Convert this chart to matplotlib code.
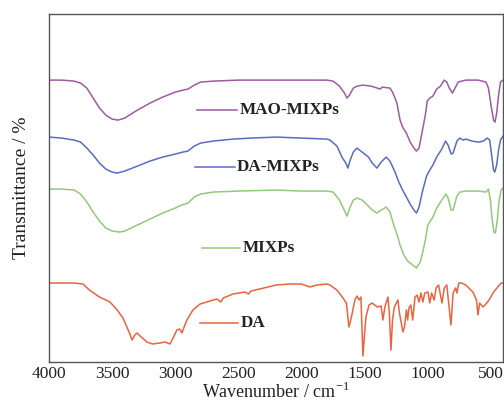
import matplotlib
matplotlib.use("Agg")
import matplotlib.pyplot as plt

plt.rcParams['font.family'] = ['Liberation Serif', 'DejaVu Serif']

# Wavenumber (cm-1) and transmittance (arbitrary offset units)
mao_wn = [4000, 3900, 3800, 3750, 3700, 3650, 3600, 3550, 3500, 3454, 3400, 3300, 3200, 3100,
          3000, 2940, 2900, 2850, 2800, 2700, 2500, 2000, 1800, 1750, 1700, 1660, 1640, 1620,
          1590, 1560, 1514, 1450, 1400, 1380, 1360, 1300, 1280, 1260, 1245, 1220, 1200, 1170,
          1140, 1110, 1090, 1070, 1047, 1020, 1005, 985, 960, 930, 900, 870, 850, 830, 805,
          785, 760, 700, 600, 540, 520, 500, 480, 468, 455, 440, 425, 405]
mao_t = [282, 282, 281, 279, 274, 264, 254, 247, 243, 242, 244, 252, 259, 265,
         270, 272, 273, 277, 280, 281, 282, 282, 282, 281, 276, 269, 264, 267,
         274, 276, 277, 276, 274, 273, 275, 274, 270, 264, 259, 242, 235, 229,
         220, 214, 211, 214, 229, 247, 261, 264, 266, 273, 276, 282, 280, 274, 269,
         274, 280, 282, 282, 280, 274, 257, 242, 240, 249, 267, 280, 282]

da_mixps_wn = [4000, 3900, 3800, 3750, 3700, 3650, 3600, 3550, 3500, 3460, 3400, 3300, 3200,
               3100, 3000, 2940, 2900, 2850, 2800, 2700, 2543, 2400, 2200, 2000, 1800, 1775,
               1720, 1680, 1650, 1633, 1615, 1590, 1562, 1530, 1500, 1470, 1440, 1403, 1370,
               1330, 1300, 1260, 1230, 1200, 1170, 1140, 1110, 1090, 1070, 1040, 1010, 985,
               960, 930, 890, 860, 840, 815, 800, 770, 746, 720, 700, 650, 600, 560, 530,
               510, 495, 480, 470, 455, 440, 425, 405]
da_mixps_t = [225, 224, 222, 220, 214, 207, 199, 193, 190, 189, 191, 196, 201,
              205, 208, 210, 211, 216, 219, 221, 223, 224, 225, 224, 223, 222,
              216, 205, 199, 194, 202, 210, 214, 211, 208, 205, 199, 194, 200,
              205, 201, 190, 180, 172, 165, 158, 152, 149, 155, 172, 186, 192,
              197, 205, 213, 221, 217, 208, 209, 221, 224, 222, 223, 221, 220, 221, 224,
              222, 207, 192, 190, 197, 212, 222, 226]

mixps_wn = [4000, 3900, 3800, 3750, 3700, 3650, 3600, 3550, 3500, 3440, 3400, 3300, 3200,
            3100, 3000, 2950, 2900, 2850, 2800, 2700, 2500, 2200, 2000, 1800, 1750, 1700,
            1670, 1640, 1615, 1590, 1560, 1520, 1480, 1440, 1403, 1370, 1330, 1300, 1270,
            1245, 1220, 1190, 1160, 1120, 1090, 1060, 1040, 1020, 1000, 985, 960, 930, 890,
            857, 840, 815, 800, 770, 746, 700, 600, 540, 520, 505, 490, 477, 465, 450, 435,
            420, 405]
mixps_t = [173, 173, 172, 168, 160, 150, 141, 134, 131, 130, 131, 137, 143,
           149, 154, 157, 159, 165, 168, 170, 171, 172, 171, 171, 170, 162,
           154, 146, 155, 162, 164, 162, 157, 152, 149, 152, 155, 150, 137,
           128, 117, 107, 101, 97, 94, 100, 110, 122, 137, 140, 145, 154, 162,
           168, 164, 152, 152, 166, 170, 171, 171, 170, 173, 162, 142, 130, 129, 142, 162,
           172, 174]

da_wn = [4000, 3900, 3800, 3730, 3680, 3600, 3517, 3460, 3414, 3380, 3359, 3343, 3320, 3303,
         3270, 3224, 3180, 3121, 3080, 3042, 3010, 2987, 2965, 2947, 2930, 2908, 2860, 2804,
         2750, 2700, 2670, 2640, 2620, 2543, 2450, 2420, 2400, 2300, 2200, 2100, 2000, 1933,
         1880, 1800, 1775, 1720, 1672, 1645, 1625, 1605, 1578, 1561, 1545, 1530, 1514, 1500,
         1490, 1466, 1443, 1420, 1400, 1370, 1356, 1340, 1316, 1305, 1292, 1280, 1265, 1237,
         1225, 1197, 1185, 1170, 1160, 1150, 1135, 1120, 1102, 1085, 1070, 1055, 1039, 1025,
         999, 985, 970, 950, 935, 915, 888, 870, 850, 817, 800, 780, 770, 755, 730, 700,
         643, 615, 603, 590, 564, 540, 510, 480, 453, 420, 405]
da_t = [79, 79, 79, 78, 72, 65, 60, 52, 44, 34, 28, 22, 27, 29,
        25, 20, 18, 19, 20, 18, 26, 32, 33, 29, 35, 42, 52, 58,
        60, 62, 63, 60, 64, 68, 70, 68, 71, 74, 77, 78, 78, 75,
        77, 78, 77, 72, 64, 59, 35, 45, 62, 66, 62, 65, 6, 30,
        45, 57, 59, 57, 55, 56, 42, 55, 65, 49, 12, 42, 55, 62,
        49, 30, 35, 52, 42, 54, 57, 42, 65, 67, 60, 69, 60, 69,
        70, 59, 69, 62, 74, 77, 59, 74, 77, 37, 69, 74, 69, 79, 79, 77,
        70, 62, 47, 59, 55, 58, 63, 70, 74, 79, 79]

names = ['MAO-MIXPs', 'DA-MIXPs', 'MIXPs', 'DA']
colors = ['#9C5C9E', '#5B6CC0', '#93C97A', '#E8653F']
# legend-like label: line start, line end, text start (wavenumber), height
label_line_start = [2830, 2845, 2790, 2805]
label_line_end = [2510, 2527, 2488, 2504]
label_text_x = [2488, 2511, 2464, 2480]
label_y = [252, 195, 114, 39]

fig = plt.figure(figsize=(5.04, 4.04), dpi=100)
ax = fig.add_axes([0.0972, 0.104, 0.9008, 0.861])

series = [(mao_wn, mao_t), (da_mixps_wn, da_mixps_t), (mixps_wn, mixps_t), (da_wn, da_t)]
for i, ((wn, t), c, name) in enumerate(zip(series, colors, names)):
    ax.plot(wn, t, color=c, lw=1.1)
    ax.plot([label_line_start[i], label_line_end[i]], [label_y[i], label_y[i]], color=c, lw=1.1)
    ax.text(label_text_x[i], label_y[i], name, fontsize=12.3, fontweight='bold',
            va='center', ha='left', color='#222222')

ax.set_xlim(4000, 405)
ax.set_ylim(0, 348)
ax.set_xticks([4000, 3500, 3000, 2500, 2000, 1500, 1000, 500])
ax.set_yticks([])
ax.tick_params(axis='x', length=0, labelsize=12.5, pad=3, colors='#222222')
for s in ax.spines.values():
    s.set_color('#555555')
    s.set_linewidth(1.0)
ax.set_xlabel('Wavenumber / cm$^{\\mathregular{-1}}$', fontsize=13, labelpad=0, color='#222222')
ax.set_ylabel('Transmittance / %', fontsize=14, labelpad=14, color='#222222')

fig.savefig('out.png', dpi=100)
